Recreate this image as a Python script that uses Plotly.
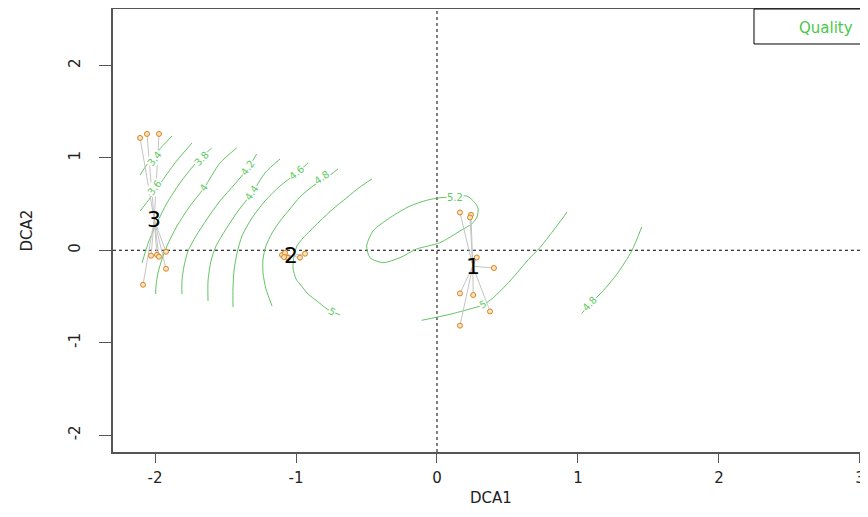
import numpy as np
import plotly.graph_objects as go

# ---- site scores (DCA1, DCA2) per cluster ----
g1_x = [0.163, 0.241, 0.234, 0.282, 0.404, 0.163, 0.257, 0.376, 0.163]
g1_y = [0.409, 0.384, 0.355, -0.078, -0.192, -0.467, -0.484, -0.662, -0.816]
g2_x = [-1.099, -1.078, -1.057, -1.085, -0.972, -0.936]
g2_y = [-0.051, -0.029, -0.083, -0.073, -0.080, -0.037]
g3_x = [-2.106, -2.057, -1.972, -2.028, -1.986, -1.972, -1.922, -1.922, -2.085]
g3_y = [1.216, 1.259, 1.259, -0.059, -0.049, -0.070, -0.016, -0.200, -0.373]
group_names = ["1", "2", "3"]

# ---- fitted surface (Quality) contour lines ----
c34_x = [-1.879, -1.979, -2.050, -2.106]
c34_y = [1.237, 1.075, 0.945, 0.815]
c36_x = [-1.738, -1.858, -1.965, -2.050, -2.106]
c36_y = [1.161, 0.945, 0.718, 0.534, 0.425]
c38_x = [-1.598, -1.716, -1.823, -1.915, -1.986, -2.043, -2.071, -2.092]
c38_y = [1.107, 0.934, 0.728, 0.512, 0.295, 0.101, -0.029, -0.137]
c40_x = [-1.421, -1.539, -1.652, -1.752, -1.844, -1.915, -1.950, -1.979, -1.993, -1.996]
c40_y = [1.107, 0.945, 0.674, 0.479, 0.263, 0.047, -0.094, -0.246, -0.386, -0.473]
c42_x = [-1.279, -1.340, -1.433, -1.539, -1.631, -1.709, -1.766, -1.794, -1.809, -1.809]
c42_y = [1.042, 0.891, 0.718, 0.534, 0.339, 0.155, -0.008, -0.170, -0.332, -0.473]
c44_x = [-1.113, -1.220, -1.312, -1.411, -1.496, -1.567, -1.603, -1.624, -1.624]
c44_y = [0.988, 0.837, 0.620, 0.425, 0.231, 0.047, -0.116, -0.332, -0.549]
c46_x = [-0.915, -0.993, -1.113, -1.220, -1.312, -1.383, -1.418, -1.440, -1.447, -1.447]
c46_y = [0.945, 0.837, 0.696, 0.534, 0.350, 0.155, -0.029, -0.224, -0.419, -0.614]
c48a_x = [-0.702, -0.787, -0.879, -0.972, -1.043, -1.113, -1.170, -1.213, -1.234, -1.234, -1.213, -1.170]
c48a_y = [0.880, 0.782, 0.696, 0.577, 0.447, 0.317, 0.187, 0.047, -0.094, -0.246, -0.419, -0.603]
c50a_x = [-0.461, -0.546, -0.640, -0.738, -0.830, -0.901, -0.950, -0.993, -1.014, -1.021,
          -1.000, -0.972, -0.915, -0.851, -0.780, -0.688]
c50a_y = [0.772, 0.685, 0.569, 0.447, 0.317, 0.209, 0.133, 0.047, -0.062, -0.192,
          -0.311, -0.365, -0.473, -0.549, -0.635, -0.700]
c52_x = [0.211, 0.257, 0.291, 0.284, 0.246, 0.163, 0.021, -0.144, -0.262, -0.383,
         -0.475, -0.499, -0.454, -0.333, -0.191, -0.073, 0.021, 0.128, 0.211]
c52_y = [0.588, 0.534, 0.458, 0.360, 0.285, 0.209, 0.082, 0.014, -0.080, -0.134,
         -0.080, 0.047, 0.209, 0.353, 0.479, 0.541, 0.569, 0.577, 0.588]
c50b_x = [-0.109, 0.092, 0.234, 0.326, 0.399, 0.518, 0.660, 0.730, 0.823, 0.894, 0.922]
c50b_y = [-0.758, -0.693, -0.635, -0.592, -0.513, -0.332, -0.080, 0.028, 0.209, 0.353, 0.415]
c48b_x = [1.026, 1.085, 1.177, 1.275, 1.381, 1.452]
c48b_y = [-0.686, -0.581, -0.440, -0.260, -0.008, 0.252]

# contour labels
lab_text = ["3.4", "3.6", "3.8", "4", "4.2", "4.4", "4.6", "4.8", "5", "5.2", "5", "4.8"]
lab_x = [-2.000, -2.000, -1.667, -1.652, -1.340, -1.312, -0.993, -0.816, -0.745, 0.128, 0.326, 1.085]
lab_y = [0.988, 0.674, 0.988, 0.674, 0.891, 0.620, 0.837, 0.783, -0.662, 0.570, -0.592, -0.581]
lab_angle = [-51, -53, -47, -55, -54, -55, -40, -35, 30, 0, -28, -47]

x_ticks = [-2, -1, 0, 1, 2, 3]
y_ticks = [-2, -1, 0, 1, 2]

GREEN_LINE = "#62C462"
GREEN_TEXT = "#5CCB5C"
FONT = "DejaVu Sans"

fig = go.Figure()

contours = [(c34_x, c34_y), (c36_x, c36_y), (c38_x, c38_y), (c40_x, c40_y),
            (c42_x, c42_y), (c44_x, c44_y), (c46_x, c46_y), (c48a_x, c48a_y),
            (c50a_x, c50a_y), (c52_x, c52_y), (c50b_x, c50b_y), (c48b_x, c48b_y)]
for cx, cy in contours:
    fig.add_trace(go.Scatter(x=cx, y=cy, mode="lines",
                             line=dict(color=GREEN_LINE, width=1, shape="spline", smoothing=0.7),
                             hoverinfo="skip", showlegend=False))

groups = [(g1_x, g1_y), (g2_x, g2_y), (g3_x, g3_y)]
cents = []
for gx, gy in groups:
    cxm, cym = float(np.mean(gx)), float(np.mean(gy))
    cents.append((cxm, cym))
    sx, sy = [], []
    for px, py in zip(gx, gy):
        sx += [cxm, px, None]
        sy += [cym, py, None]
    fig.add_trace(go.Scatter(x=sx, y=sy, mode="lines",
                             line=dict(color="#C4C4C4", width=1),
                             hoverinfo="skip", showlegend=False))

for gx, gy in groups:
    fig.add_trace(go.Scatter(x=gx, y=gy, mode="markers",
                             marker=dict(size=5, color="#FBE3BE",
                                         line=dict(color="#D9821E", width=1)),
                             showlegend=False))

annotations = []
for t, x, y, a in zip(lab_text, lab_x, lab_y, lab_angle):
    annotations.append(dict(x=x, y=y, xref="x", yref="y", text=t, showarrow=False,
                            textangle=a, bgcolor="white", borderpad=0,
                            font=dict(family=FONT, size=10, color=GREEN_TEXT)))
for name, (cxm, cym) in zip(group_names, cents):
    annotations.append(dict(x=cxm, y=cym, xref="x", yref="y", text=name, showarrow=False,
                            font=dict(family=FONT, size=22, color="black")))

# legend box text and axis titles
annotations.append(dict(x=0.944, y=0.957, xref="paper", yref="paper", text="Quality",
                        showarrow=False, xanchor="center", yanchor="middle",
                        font=dict(family=FONT, size=15, color="#48C848")))
annotations.append(dict(x=0.5, y=-0.104, xref="paper", yref="paper", text="DCA1",
                        showarrow=False, xanchor="center", yanchor="middle",
                        font=dict(family=FONT, size=15, color="#222222")))
annotations.append(dict(x=-0.114, y=0.5, xref="paper", yref="paper", text="DCA2",
                        showarrow=False, textangle=-90, xanchor="center", yanchor="middle",
                        font=dict(family=FONT, size=15, color="#222222")))

shapes = [
    dict(type="line", xref="x", yref="paper", x0=0, x1=0, y0=0, y1=1,
         line=dict(color="black", width=1, dash="dot"), layer="below"),
    dict(type="line", xref="paper", yref="y", x0=0, x1=1, y0=0, y1=0,
         line=dict(color="black", width=1, dash="dot"), layer="below"),
    dict(type="rect", xref="paper", yref="paper", x0=0.849, x1=1.03, y0=0.921, y1=1.0,
         line=dict(color="black", width=1), fillcolor="rgba(0,0,0,0)"),
]

# the page body has an 8px margin, so the figure is sized to fit the remaining window
fig.update_layout(
    width=860, height=501,
    margin=dict(l=105, r=0, t=1, b=57, autoexpand=False),
    plot_bgcolor="white", paper_bgcolor="white",
    annotations=annotations, shapes=shapes,
    font=dict(family=FONT, size=15, color="#222222"),
    xaxis=dict(range=[-2.298, 3.057], tickvals=x_ticks, ticktext=[str(v) for v in x_ticks],
               ticks="outside", ticklen=9, tickcolor="#555555", tickwidth=1,
               showline=True, linecolor="#555555", linewidth=1.5, mirror=True,
               showgrid=False, zeroline=False, ticklabelstandoff=2, automargin=False,
               tickfont=dict(family=FONT, size=15, color="#222222")),
    yaxis=dict(range=[-2.183, 2.611], tickvals=y_ticks, ticktext=[str(v) for v in y_ticks],
               ticks="outside", ticklen=12, tickcolor="#555555", tickwidth=1,
               showline=True, linecolor="#555555", linewidth=1.5,
               showgrid=False, zeroline=False, tickangle=-90, ticklabelstandoff=13,
               automargin=False,
               tickfont=dict(family=FONT, size=15, color="#222222")),
)

fig.write_html("out.html")
